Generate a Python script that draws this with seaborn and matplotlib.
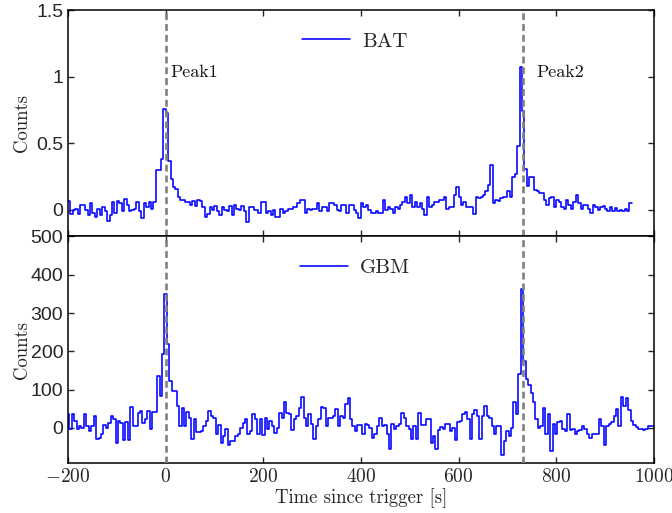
import numpy as np
import pandas as pd
import matplotlib
matplotlib.use("Agg")
import matplotlib.pyplot as plt
import seaborn as sns

# ---------------- data ----------------
bin_width = 5.0
bat_start = -200.0      # left edge of first BAT bin
gbm_start = -202.5      # left edge of first GBM bin

bat_counts = [
    0.07, -0.03, 0.0, 0.01, -0.03, 0.04, 0.04, 0.0, -0.04, 0.05,          # -200
    -0.02, -0.05, 0.01, -0.04, 0.02, -0.01, -0.08, -0.04, 0.06, -0.02,    # -150
    0.07, 0.05, -0.01, 0.08, 0.04, -0.01, 0.0, 0.01, 0.06, -0.01,         # -100
    -0.06, 0.05, 0.02, 0.06, 0.01, 0.06, 0.30, 0.30, 0.38, 0.76,          # -50
    0.73, 0.37, 0.23, 0.175, 0.155, 0.095, 0.075, 0.075, 0.06, 0.06,      # 0
    0.04, 0.07, 0.03, 0.075, 0.07, 0.02, -0.05, -0.03, 0.02, 0.0,         # 50
    0.03, -0.01, -0.04, 0.02, 0.0, -0.01, 0.03, -0.04, 0.04, 0.01,        # 100
    0.0, 0.03, -0.01, -0.09, 0.02, 0.025, 0.0, 0.0, -0.025, 0.06,         # 150
    0.06, -0.025, -0.01, -0.04, 0.0, -0.05, -0.05, 0.01, -0.025, -0.01,   # 200
    0.01, 0.01, 0.025, 0.025, 0.05, 0.075, 0.075, -0.025, 0.01, 0.0,      # 250
    0.01, 0.01, 0.05, -0.01, 0.025, 0.025, -0.01, 0.05, 0.05, 0.04,       # 300
    0.0, -0.01, 0.04, 0.04, -0.025, 0.04, 0.04, 0.0, -0.025, -0.06,       # 350
    0.05, 0.025, 0.04, 0.0, -0.02, -0.02, -0.01, -0.02, -0.02, 0.075,     # 400
    0.0, 0.025, 0.01, -0.02, 0.025, 0.01, 0.04, 0.06, 0.1, 0.05,          # 450
    0.11, 0.025, 0.06, 0.025, 0.055, 0.01, -0.04, 0.1, 0.025, 0.04,       # 500
    0.06, 0.06, 0.075, 0.075, 0.1, 0.01, 0.02, 0.025, 0.11, 0.175,        # 550
    0.1, 0.04, 0.06, 0.025, 0.025, 0.025, -0.03, 0.1, 0.09, 0.1,          # 600
    0.11, 0.14, 0.19, 0.34, 0.05, 0.075, 0.07, 0.09, 0.1, 0.1,            # 650
    0.14, 0.1, 0.25, 0.27, 0.48, 1.07, 0.74, 0.31, 0.18, 0.25,            # 700
    0.25, 0.15, 0.14, 0.13, 0.13, 0.075, 0.04, 0.09, 0.1, 0.025,          # 750
    0.075, 0.06, 0.025, 0.01, 0.075, 0.04, 0.01, 0.06, 0.11, 0.05,        # 800
    0.01, 0.04, 0.035, 0.01, -0.025, 0.04, 0.025, 0.0, 0.025, 0.03,       # 850
    0.005, -0.01, 0.025, -0.01, 0.015, -0.01, 0.0, -0.01, 0.01, -0.01,    # 900
    0.05,                                                                 # 950
]

gbm_counts = [
    37, -4, 37, 17, -3, 4, 0, 35, 4, -9,            # -200
    4, 32, -29, -26, -17, 6, 0, 13, 30, 22,         # -150
    -41, 17, 13, -32, 15, -32, 54, 4, 4, 39,        # -100
    44, 13, 22, 44, -3, 41, 41, 135, 83, 192,       # -50
    349, 218, 122, 96, 96, 58, 4, 52, 4, 41,        # 0
    26, -29, 22, -11, -11, -9, 4, 17, 44, 30,       # 50
    26, -17, 6, -39, -22, -3, -44, -35, -35, -22,   # 100
    -15, 0, 13, 24, -15, -9, 35, 22, -17, 24,       # 150
    -20, 26, -3, 17, 4, -13, 0, 39, 26, 67,         # 200
    39, 35, -6, 22, 30, 52, 81, 26, 4, 35,          # 250
    9, -29, 4, 22, 55, 52, 4, 26, 26, 30,           # 300
    48, 4, 30, 26, 61, 79, 22, 4, -9, 6,            # 350
    6, -15, 10, 6, 0, -26, -17, 4, 26, 4,           # 400
    6, -17, -55, 9, -3, 4, 11, 39, 26, 4,           # 450
    -3, -29, 4, -29, 39, 6, 6, 22, 22, -39,         # 500
    -22, -55, -6, 3, -3, 9, 11, -9, 0, -32,         # 550
    15, 17, 35, 41, 22, -29, 35, 46, 30, -29,       # 600
    30, 58, 32, 26, 4, -15, 4, 4, -70, -35,         # 650
    -9, -22, 0, 67, 35, 140, 362, 175, 127, 113,    # 700
    92, 67, 24, 0, 4, 52, -17, 35, -61, 11,         # 750
    -17, 15, 17, -4, -9, 35, -6, -4, -15, -9,       # 800
    -6, 4, -3, -17, -26, -17, -17, -15, 24, 4,      # 850
    -44, 4, 9, 15, 30, 50, 4, 81, 57, 79,           # 900
    46, 17, 6, 3, -3, -4, -6, -3, 4, 4,             # 950
    4,                                              # 1000
]

peak_times = [0, 731]
peak_labels = ["Peak1", "Peak2"]
peak_label_pos = [(10, 1.035), (760, 1.035)]
series_names = ["BAT", "GBM"]

x_ticks = [-200, 0, 200, 400, 600, 800, 1000]
bat_yticks = [0, 0.5, 1, 1.5]
bat_yticklabels = ["0", "0.5", "1", "1.5"]
gbm_yticks = [0, 100, 200, 300, 400, 500]
gbm_yticklabels = ["0", "100", "200", "300", "400", "500"]


def step_frame(start, counts):
    edges = start + bin_width * np.arange(len(counts) + 1)
    vals = list(counts) + [counts[-1]]
    return pd.DataFrame({"t": edges, "c": vals})


bat_df = step_frame(bat_start, bat_counts)
gbm_df = step_frame(gbm_start, gbm_counts)

# ---------------- style ----------------
sns.set_style("ticks", {"xtick.direction": "in", "ytick.direction": "in"})
plt.rcParams["font.family"] = ["Liberation Sans", "DejaVu Sans"]
plt.rcParams["mathtext.fontset"] = "cm"
plt.rcParams["axes.linewidth"] = 1.1

serif = "cmr10"
fig = plt.figure(figsize=(6.72, 5.13), dpi=100)
gs = fig.add_gridspec(2, 1, hspace=0, left=0.1012, right=0.973,
                      top=0.9805, bottom=0.0975)
ax1 = fig.add_subplot(gs[0])
ax2 = fig.add_subplot(gs[1], sharex=ax1)

for ax, df, name in [(ax1, bat_df, series_names[0]), (ax2, gbm_df, series_names[1])]:
    sns.lineplot(data=df, x="t", y="c", ax=ax, color="#0000ff", linewidth=1.15,
                 drawstyle="steps-post", label=name, estimator=None, sort=False)
    for pt in peak_times:
        ax.axvline(pt, color="#808080", linewidth=1.9, linestyle=(0, (2.6, 1.5)),
                   zorder=3)
    ax.legend(loc="center", bbox_to_anchor=(0.49, 0.862), frameon=False,
              prop={"family": serif, "size": 15}, handlelength=2.3,
              handletextpad=0.6)
    ax.set_ylabel("Counts", fontfamily=serif, fontsize=13.5)
    ax.tick_params(direction="in", top=True, right=True, length=4.5,
                   width=1.0, labelsize=14)
    for s in ax.spines.values():
        s.set_visible(True)
        s.set_linewidth(1.1)
        s.set_color("black")

ax1.set_xlim(-200, 1000)
ax1.set_ylim(-0.2, 1.5)
ax2.set_ylim(-92, 500)

ax1.set_yticks(bat_yticks, bat_yticklabels)
ax2.set_yticks(gbm_yticks, gbm_yticklabels)
ax2.set_xticks(x_ticks, [f"${v}$" for v in x_ticks])
ax1.tick_params(labelbottom=False)
ax1.set_xlabel("")
ax2.set_xlabel("Time since trigger [s]", fontfamily=serif, fontsize=13.5,
               labelpad=2)
for lab in ax2.get_xticklabels():
    lab.set_fontsize(14)

for (px, py), txt in zip(peak_label_pos, peak_labels):
    ax1.text(px, py, txt, fontfamily=serif, fontsize=13, ha="left",
             va="center", color="#111111")

ax1.yaxis.set_label_coords(-0.064, 0.5)
ax2.yaxis.set_label_coords(-0.064, 0.5)

fig.savefig("out.png", dpi=100)
